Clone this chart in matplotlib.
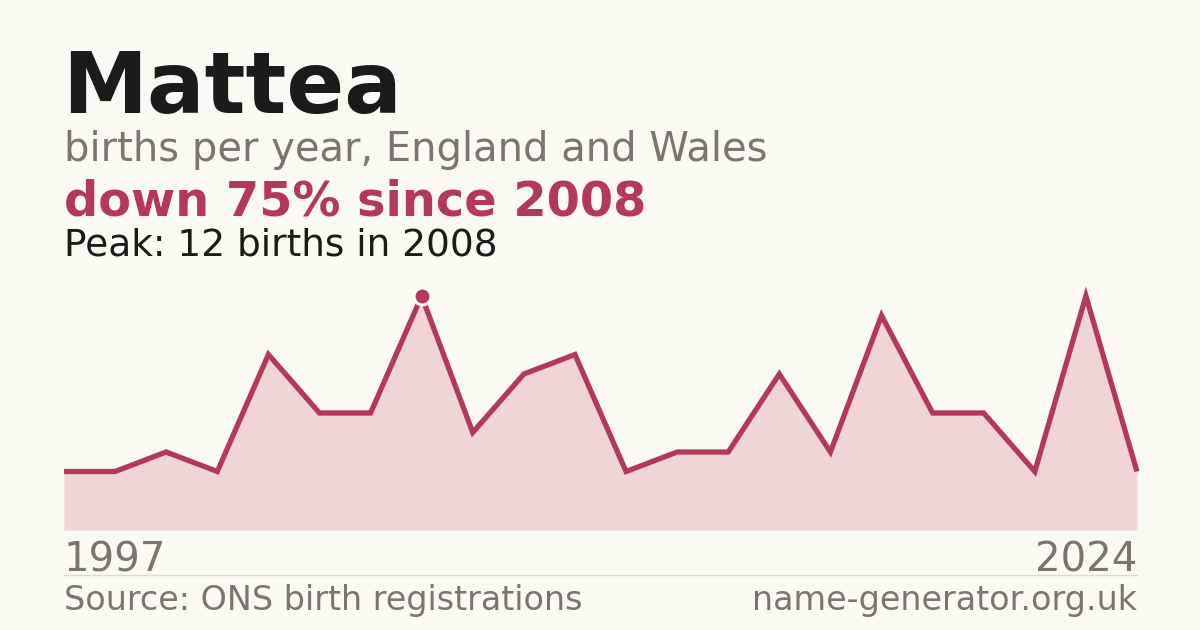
import matplotlib.pyplot as plt
import numpy as np

# data (years with published counts only, plotted by index)
first_year = "1997"
last_year = "2024"
births = [3, 3, 4, 3, 9, 6, 6, 12, 5, 8, 9, 3, 4, 4, 8, 4, 11, 6, 6, 3, 12, 3]
peak_idx = 7

W, H = 1200, 630
bg = '#faf9f5'
red = '#b3395a'
fill_c = '#f0d4da'
grey = '#7a756d'
dark = '#1b1b1b'

fig = plt.figure(figsize=(12, 6.3), dpi=100, facecolor=bg)

def fx(px):
    return px / W

def fy(py):
    return 1 - py / H

# chart area: x 64..1137, baseline at 530, value 12 at 296
ax = fig.add_axes([fx(64), fy(530), fx(1137 - 64), (530 - 296) / H])
ax.set_facecolor('none')
x = np.arange(len(births))
ax.fill_between(x, births, 0, color=fill_c, lw=0)
ax.plot(x, births, color=red, lw=3.8, solid_joinstyle='miter', solid_capstyle='butt', clip_on=False)
ax.plot(x[peak_idx], births[peak_idx], 'o', ms=12.2, color=red, mec=bg, mew=2.2, clip_on=False)
ax.set_xlim(0, len(births) - 1)
ax.set_ylim(0, max(births))
ax.axis('off')

# texts
fig.text(fx(62), fy(113), "Mattea", fontsize=61.5, fontweight='bold', color=dark, va='baseline')
fig.text(fx(64), fy(161), "births per year, England and Wales", fontsize=28.8, color=grey, va='baseline')
fig.text(fx(64), fy(215), "down 75% since 2008", fontsize=34.5, fontweight='bold', color=red, va='baseline')
fig.text(fx(64), fy(255), "Peak: 12 births in 2008", fontsize=27, color=dark, va='baseline')

fig.text(fx(64), fy(571), first_year, fontsize=29, color=grey, va='baseline')
fig.text(fx(1137), fy(571), last_year, fontsize=29, color=grey, va='baseline', ha='right')

fig.add_artist(plt.Line2D([fx(64), fx(1137)], [fy(574.5), fy(574.5)], color='#dcdad3', lw=1))

fig.text(fx(64), fy(610), "Source: ONS birth registrations", fontsize=24, color=grey, va='baseline')
fig.text(fx(1137), fy(610), "name-generator.org.uk", fontsize=24, color=grey, va='baseline', ha='right')

fig.savefig('out.png', dpi=100, facecolor=bg)
